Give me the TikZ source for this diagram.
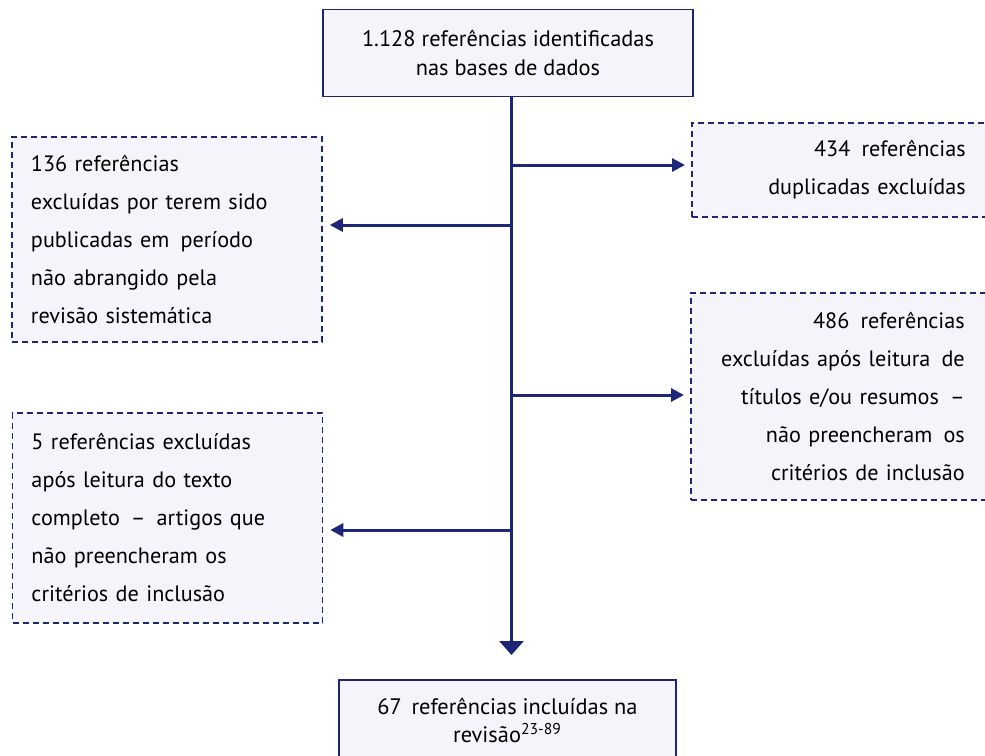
\documentclass[tikz,border=0pt]{standalone}
\usepackage{fontspec}
\setmainfont{PT Sans}
\usetikzlibrary{arrows.meta}
\begin{document}
\begin{tikzpicture}[x=0.5pt, y=-0.5pt,
  solidbox/.style={draw=navy, line width=0.75pt, fill=boxfill, align=center, inner sep=0pt},
  dashbox/.style={draw=navy, line width=0.75pt, dash pattern=on 3pt off 2pt, fill=boxfill,
    inner xsep=9.5pt, inner ysep=0pt, font=\fontsize{11.1}{19}\selectfont},
  flow/.style={draw=navy, line width=1.5pt, -{Triangle[length=6.5pt, width=6.5pt]}}]
\definecolor{navy}{HTML}{1E2777}
\definecolor{boxfill}{HTML}{F4F4FA}
\clip (0,0) rectangle (985,755);
\node[solidbox, minimum width=185pt, minimum height=43.5pt, font=\fontsize{11.2}{14.5}\selectfont] (top) at (508,53) {1.128 referências identificadas\\nas bases de dados};
\node[solidbox, minimum width=168.5pt, minimum height=41pt, anchor=north, font=\fontsize{11.2}{14}\selectfont] (incl) at (507.5,679) {67\, referências incluídas na\\revisão\textsuperscript{23-89}};
\node[dashbox, text width=136pt, minimum height=102.5pt, align=left] (periodo) at (167,239.5) {136 referências\\excluídas por terem sido\\publicadas em\, período\\não abrangido pela\\revisão sistemática};
\node[dashbox, text width=136pt, minimum height=105pt, align=left] (texto) at (167.5,518) {5 referências excluídas\\após leitura do texto\\completo\, –\, artigos que\\não preencheram os\\critérios de inclusão};
\node[dashbox, inner xsep=12.5pt, text width=124.5pt, minimum height=47pt, align=right, anchor=west] (dup) at (691,170) {434\, referências\\duplicadas excluídas};
\node[dashbox, inner xsep=12.5pt, text width=124.5pt, minimum height=103.5pt, align=right, anchor=west] (titulos) at (690,396.5) {486\, referências\\excluídas após leitura\, de\\títulos e/ou resumos\, –\\não preencheram\, os\\critérios de inclusão};
% spine
\coordinate (s1) at (511.5,165);
\coordinate (s2) at (511.5,225);
\coordinate (s3) at (511.5,395);
\coordinate (s4) at (511.5,530);
\draw[navy, line width=1.5pt, -{Triangle[length=7pt, width=12pt]}, shorten >=12pt] (s1 |- top.south) -- (s1 |- incl.north);
\draw[flow, shorten >=3pt] (s1) -- (s1 -| dup.west);
\draw[flow, shorten >=3.5pt] (s2) -- (s2 -| periodo.east);
\draw[flow, shorten >=3pt] (s3) -- (s3 -| titulos.west);
\draw[flow, shorten >=3.5pt] (s4) -- (s4 -| texto.east);
\end{tikzpicture}
\end{document}
